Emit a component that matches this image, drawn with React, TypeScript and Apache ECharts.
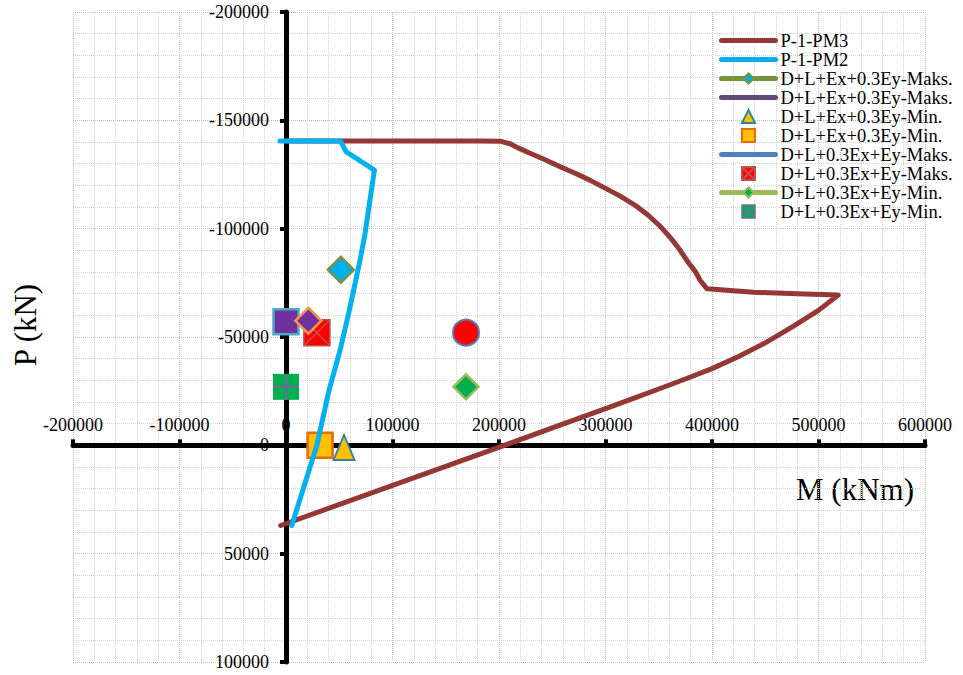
import React, { useEffect, useRef } from "react";
import * as echarts from "echarts";

// P-1-PM3 interaction curve (M in kNm, P in kN)
const pm3M = [-5000, 205000, 300000, 325000, 350000, 375000, 400000, 425000, 450000, 475000, 500000, 518500, 480000, 439000, 408000, 395200, 388900, 384200, 377600, 370100, 360700, 351300, 340100, 327900, 313800, 299700, 285600, 271500, 257400, 243300, 229200, 217900, 210400, 201000, 182200, 0];
const pm3P = [37000, 0, -16900, -21400, -26000, -30600, -35400, -41000, -47300, -54600, -62300, -69400, -70000, -70600, -71800, -72300, -76200, -80300, -84500, -90000, -96000, -101100, -106200, -110800, -115000, -118700, -122300, -125600, -128600, -131800, -134800, -137300, -139200, -140400, -140500, -140500];

// P-1-PM2 interaction curve
const pm2M = [-5600, 51000, 56500, 83000, 74000, 69500, 60200, 50800, 40400, 29000, 5400];
const pm2P = [-140500, -140500, -135500, -127000, -97000, -85400, -63900, -43900, -25400, 0, 37000];

// Load combination points [M, P]
const exMaksA = [51500, -81000];
const exMinTri = [54500, 1000];
const exMinSq = [32000, 0];
const eyMaksX = [29000, -52000];
const eyMinDia = [169000, -27000];
const eyMinPlus = [0, -27000];
const extraPurpleSq = [0, -57000];
const extraPurpleDia = [21000, -57500];
const extraRedCircle = [169000, -52000];

const legendKeys = ["P-1-PM3", "P-1-PM2", "c1", "c2", "c3", "c4", "c5", "c6", "c7", "c8"];
const legendTexts = [
  "P-1-PM3",
  "P-1-PM2",
  "D+L+Ex+0.3Ey-Maks.",
  "D+L+Ex+0.3Ey-Maks.",
  "D+L+Ex+0.3Ey-Min.",
  "D+L+Ex+0.3Ey-Min.",
  "D+L+0.3Ex+Ey-Maks.",
  "D+L+0.3Ex+Ey-Maks.",
  "D+L+0.3Ex+Ey-Min.",
  "D+L+0.3Ex+Ey-Min.",
];

const xMin = -200000;
const xMax = 600000;
const xInterval = 100000;
const yMin = -200000;
const yMax = 100000;
const yInterval = 50000;

const FONT = '"Liberation Serif", "Times New Roman", serif';

const X_SQ = "path://M0 0H20V20H0ZM0 0L20 20M20 0L0 20";
const PLUS_SQ = "path://M0 0H20V20H0ZM10 0V20M0 10H20";
const PLUS = "path://M10 0V20M0 10H20";
const TRI = "path://M10 0L20 20L0 20Z";
const SQ = "path://M0 0H20V20H0Z";

const W = 963;
const H = 675;
const G_LEFT = 73;
const G_RIGHT = 38;
const G_TOP = 12;
const G_BOTTOM = 13;

export default function App() {
  const ref = useRef<HTMLDivElement>(null);
  useEffect(() => {
    if (!ref.current) return;
    const chart = echarts.init(ref.current, null, { renderer: "svg" });
    const zip = (a: number[], b: number[]) => a.map((v, i) => [v, b[i]]);
    const legendMap: Record<string, string> = {};
    legendKeys.forEach((k, i) => (legendMap[k] = legendTexts[i]));
    const hiddenSym = { opacity: 0 };

    const plotW = W - G_LEFT - G_RIGHT;
    const plotH = H - G_TOP - G_BOTTOM;
    // place axes through the origin, moving line, ticks and labels together
    const yAxisOffset = -((0 - xMin) / (xMax - xMin)) * plotW;
    const xAxisOffset = -((yMax - 0) / (yMax - yMin)) * plotH;

    const option: any = {
      animation: false,
      backgroundColor: "#ffffff",
      grid: {
        left: G_LEFT,
        right: G_RIGHT,
        top: G_TOP,
        bottom: G_BOTTOM,
        containLabel: false,
        outerBoundsMode: "none",
      },
      legend: {
        orient: "vertical",
        left: 719,
        top: 31,
        padding: 0,
        itemGap: 0,
        itemWidth: 54,
        itemHeight: 13,
        symbolKeepAspect: true,
        selectedMode: false,
        lineStyle: { width: 5 },
        textStyle: { fontFamily: FONT, fontSize: 18.5, color: "#000", lineHeight: 19 },
        formatter: (name: string) => legendMap[name] ?? name,
        data: [
          { name: "P-1-PM3", itemStyle: hiddenSym },
          { name: "P-1-PM2", itemStyle: hiddenSym },
          { name: "c1" },
          { name: "c2", itemStyle: hiddenSym },
          { name: "c3" },
          { name: "c4" },
          { name: "c5", itemStyle: hiddenSym },
          { name: "c6" },
          { name: "c7" },
          { name: "c8", icon: PLUS_SQ, itemStyle: { borderColor: "#8064A2", borderWidth: 1.5 } },
        ],
      },
      xAxis: {
        type: "value",
        min: xMin,
        max: xMax,
        interval: xInterval,
        position: "bottom",
        offset: xAxisOffset,
        axisLine: { show: true, onZero: false, lineStyle: { color: "#000", width: 5 } },
        axisTick: { show: true, inside: true, length: 6, lineStyle: { color: "#000", width: 4 } },
        axisLabel: {
          inside: true,
          margin: 11,
          fontFamily: FONT,
          fontSize: 18,
          color: "#000",
          formatter: (v: number) => String(v),
        },
        splitLine: { show: true, lineStyle: { color: "#BDBDBD", type: "dotted", width: 1 } },
        minorTick: { show: false, splitNumber: 5 },
        minorSplitLine: { show: true, lineStyle: { color: "#D4D4D4", type: "dotted", width: 1 } },
      },
      yAxis: {
        type: "value",
        inverse: true,
        min: yMin,
        max: yMax,
        interval: yInterval,
        position: "left",
        offset: yAxisOffset,
        axisLine: { show: true, onZero: false, lineStyle: { color: "#000", width: 5 } },
        axisTick: { show: true, inside: false, length: 6, lineStyle: { color: "#000", width: 4 } },
        axisLabel: {
          margin: 17,
          fontFamily: FONT,
          fontSize: 18,
          color: "#000",
          formatter: (v: number) => String(v),
        },
        splitLine: { show: true, lineStyle: { color: "#BDBDBD", type: "dotted", width: 1 } },
        minorTick: { show: false, splitNumber: 5 },
        minorSplitLine: { show: true, lineStyle: { color: "#D4D4D4", type: "dotted", width: 1 } },
      },
      graphic: [
        {
          type: "text",
          x: 25,
          y: 325,
          rotation: Math.PI / 2,
          style: { text: "P (kN)", font: `31px ${FONT}`, fill: "#000", align: "center", verticalAlign: "middle" },
        },
        {
          type: "text",
          x: 855,
          y: 489,
          style: { text: "M (kNm)", font: `31px ${FONT}`, fill: "#000", align: "center", verticalAlign: "middle" },
        },
      ],
      series: [
        {
          name: "P-1-PM3",
          type: "line",
          symbol: "none",
          data: zip(pm3M, pm3P),
          itemStyle: { color: "#953735" },
          lineStyle: { color: "#953735", width: 5, cap: "round", join: "round" },
        },
        {
          name: "P-1-PM2",
          type: "line",
          symbol: "none",
          data: zip(pm2M, pm2P),
          itemStyle: { color: "#00B0F0" },
          lineStyle: { color: "#00B0F0", width: 5, cap: "round", join: "round" },
        },
        {
          name: "c1",
          type: "line",
          symbol: "diamond",
          symbolSize: 26,
          data: [exMaksA],
          itemStyle: { color: "#00B0F0", borderColor: "#77933C", borderWidth: 2.5 },
          lineStyle: { color: "#77933C", width: 5, cap: "round" },
        },
        {
          name: "c2",
          type: "line",
          symbol: "none",
          data: [],
          itemStyle: { color: "#604A7B" },
          lineStyle: { color: "#604A7B", width: 5, cap: "round" },
        },
        {
          name: "c3",
          type: "scatter",
          symbol: TRI,
          symbolSize: [21, 25],
          data: [exMinTri],
          itemStyle: { color: "#FFC000", borderColor: "#31859C", borderWidth: 2, opacity: 1 },
        },
        {
          name: "c4",
          type: "scatter",
          symbol: SQ,
          symbolSize: 25,
          data: [exMinSq],
          itemStyle: { color: "#FFC000", borderColor: "#E46C0A", borderWidth: 2.5, opacity: 1 },
        },
        {
          name: "c5",
          type: "line",
          symbol: "none",
          data: [],
          itemStyle: { color: "#4F81BD" },
          lineStyle: { color: "#4F81BD", width: 5, cap: "round" },
        },
        {
          name: "c6",
          type: "scatter",
          symbol: X_SQ,
          symbolSize: 26,
          data: [eyMaksX],
          itemStyle: { color: "#FF0000", borderColor: "#C0504D", borderWidth: 1.5, opacity: 1 },
        },
        {
          name: "c7",
          type: "line",
          symbol: "diamond",
          symbolSize: 25,
          data: [eyMinDia],
          itemStyle: { color: "#00B050", borderColor: "#9BBB59", borderWidth: 2.5 },
          lineStyle: { color: "#9BBB59", width: 5, cap: "round" },
        },
        {
          name: "c8",
          type: "scatter",
          symbol: SQ,
          symbolSize: 26,
          data: [eyMinPlus],
          itemStyle: { color: "#00B050", borderWidth: 0, opacity: 1 },
        },
        {
          name: "c8plus",
          type: "scatter",
          symbol: PLUS,
          symbolSize: 26,
          data: [eyMinPlus],
          itemStyle: { color: "rgba(0,0,0,0)", borderColor: "#8064A2", borderWidth: 2, opacity: 1 },
        },
        {
          name: "x1",
          type: "scatter",
          symbol: SQ,
          symbolSize: 25,
          data: [extraPurpleSq],
          itemStyle: { color: "#7030A0", borderColor: "#4BACC6", borderWidth: 2.5, opacity: 1 },
        },
        {
          name: "x2",
          type: "scatter",
          symbol: "diamond",
          symbolSize: 26,
          data: [extraPurpleDia],
          itemStyle: { color: "#7030A0", borderColor: "#F79646", borderWidth: 2.5, opacity: 1 },
        },
        {
          name: "x3",
          type: "scatter",
          symbol: "circle",
          symbolSize: 26,
          data: [extraRedCircle],
          itemStyle: { color: "#FF0000", borderColor: "#4F81BD", borderWidth: 2, opacity: 1 },
        },
      ],
    };
    chart.setOption(option);
    return () => chart.dispose();
  }, []);

  return (
    <div style={{ position: "fixed", left: 0, top: 0, width: W, height: H, background: "#fff" }}>
      <div ref={ref} style={{ width: W, height: H }} />
    </div>
  );
}
